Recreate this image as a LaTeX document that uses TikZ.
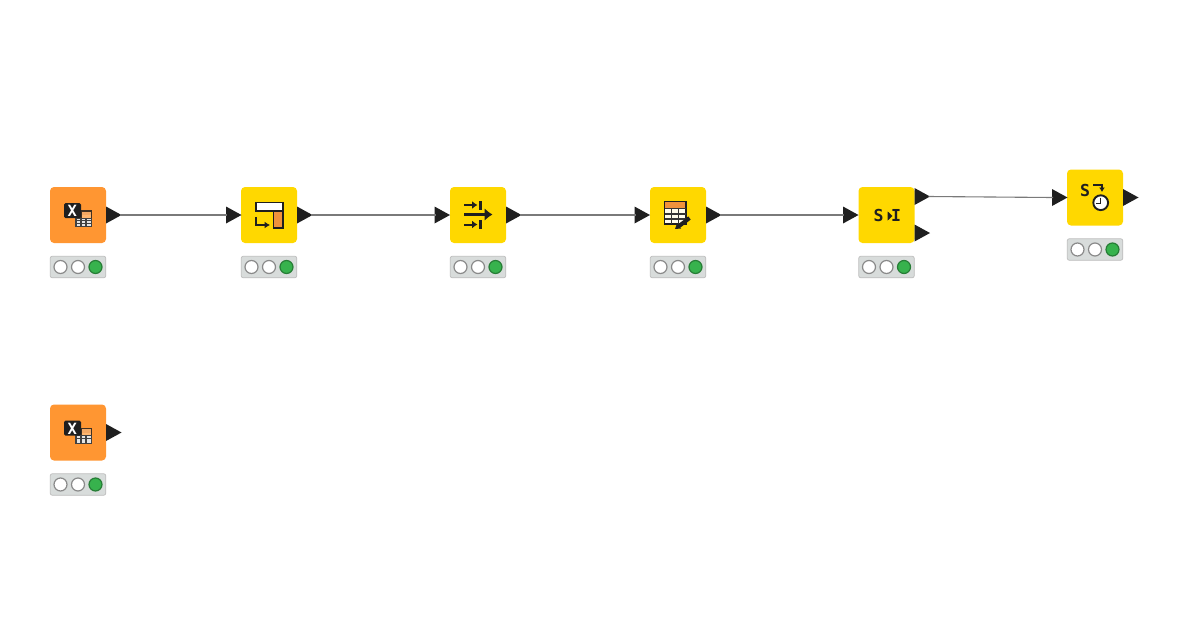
\documentclass[tikz,border=0pt]{standalone}
\usepackage{fontspec}
\setmainfont{DejaVu Sans Mono}
\usetikzlibrary{arrows.meta}
\definecolor{srccol}{HTML}{FF9632}
\definecolor{mancol}{HTML}{FFD800}
\definecolor{inkcol}{HTML}{1F1F1F}
\definecolor{wirecol}{HTML}{7A7A7A}
\definecolor{barcol}{HTML}{D8DCDB}
\definecolor{barline}{HTML}{BDBDBD}
\definecolor{ringcol}{HTML}{8A8A8A}
\definecolor{okcol}{HTML}{37B24D}
\definecolor{iconorange}{HTML}{F0923C}
\tikzset{
  x=1pt,y=-1pt,
  bodybox/.style={rectangle,rounded corners=4pt,minimum width=56pt,minimum height=56pt,inner sep=0pt,draw=none},
  statusbar/.style={rectangle,rounded corners=2pt,minimum width=55.5pt,minimum height=21.5pt,inner sep=0pt,fill=barcol,draw=barline,line width=.7pt},
  lamp/.style={circle,minimum size=13pt,inner sep=0pt,fill=white,draw=ringcol,line width=1.2pt},
  lampon/.style={lamp,fill=okcol,draw=okcol!70!black},
  wire/.style={draw=wirecol,line width=1.1pt},
  porttip/.style={fill=inkcol,draw=none},
  iconline/.style={draw=inkcol,line width=1.8pt},
  icontext/.style={text=inkcol,font=\bfseries\fontsize{16.5}{16.5}\selectfont,inner sep=0pt},
}
% name, left x, top y, fill
\newcommand{\knimenode}[4]{%
  \node[bodybox,fill=#4] (#1) at (#2+28,#3+28) {};
  \node[statusbar] (#1bar) at (#2+28,#3+80) {};
  \node[lamp] (#1la) at (#2+10.5,#3+80) {};
  \node[lamp] (#1lb) at (#2+28,#3+80) {};
  \node[lampon] (#1lc) at (#2+45.5,#3+80) {};
}
% triangle whose base is at the x,y given
\newcommand{\porttri}[3]{%
  \fill[porttip] (#2,#3-8.5) -- (#2+15.5,#3) -- (#2,#3+8.5) -- cycle;
  \coordinate (#1) at (#2+14,#3);
  \coordinate (#1base) at (#2+1,#3);
}
\newcommand{\excelicon}[2]{%
  \begin{scope}[shift={(#1,#2)}]
    \fill[inkcol!85!srccol] (30,23) rectangle (42,39.5);
    \fill[iconorange!80!white] (31.5,24.5) rectangle (41,28);
    \fill[srccol!70!white] (31.5,28) rectangle (41,31);
    \fill[inkcol!85!white] (25,30.5) rectangle (42,39.5);
    \foreach \cx in {26.6,32,37.2} \foreach \cy in {31.7,34.3,36.9}
      \fill[white!90!black] (\cx,\cy) rectangle ++(3.4,1.7);
    \fill[inkcol,rounded corners=1.5pt] (14,16) rectangle (31,31);
    \node[text=white,font=\bfseries\fontsize{15.5}{15.5}\selectfont,inner sep=0pt] (xmark#1#2) at (22.3,24) {X};
  \end{scope}}
\begin{document}
\begin{tikzpicture}
\useasboundingbox (0,0) rectangle (1200,630);
\fill[white] (0,0) rectangle (1200,630);

\knimenode{a}{50}{187}{srccol}
\knimenode{b}{241}{187}{mancol}
\knimenode{c}{450}{187}{mancol}
\knimenode{d}{650}{187}{mancol}
\knimenode{e}{858.5}{187}{mancol}
\knimenode{f}{1067}{169.5}{mancol}
\knimenode{g}{50}{404.5}{srccol}

\porttri{aout}{106}{215}
\porttri{bin}{226}{215}
\porttri{bout}{297}{215}
\porttri{cin}{434.5}{215}
\porttri{cout}{506}{215}
\porttri{din}{634.5}{215}
\porttri{dout}{706}{215}
\porttri{ein}{843}{215}
\porttri{eout}{914.5}{196.5}
\porttri{eoutb}{914.5}{233}
\porttri{fin}{1052}{197.5}
\porttri{fout}{1123}{197.5}
\porttri{gout}{106}{432.5}

\draw[wire] (aout) -- (binbase);
\draw[wire] (bout) -- (cinbase);
\draw[wire] (cout) -- (dinbase);
\draw[wire] (dout) -- (einbase);
\draw[wire] (eout) -- (finbase);

\excelicon{50}{187}
\excelicon{50}{404.5}

% column rename icon
\begin{scope}[shift={(241,187)}]
  \draw[iconline,fill=white] (15,15.5) rectangle (42,24);
  \draw[iconline,fill=iconorange] (32.5,24) rectangle (42,41);
  \draw[iconline,-{Latex[length=5.5pt,width=7pt]}] (15,30) -- (15,38) -- (29,38);
\end{scope}

% concatenate-style icon
\begin{scope}[shift={(450,187)}]
  \draw[draw=inkcol,line width=3pt,-{Latex[length=8pt,width=13pt]}] (14,27.5) -- (42.5,27.5);
  \draw[iconline,line width=2pt,-{Latex[length=5.5pt,width=8pt]}] (14,18) -- (27.5,18);
  \draw[iconline,line width=2.2pt] (30.5,14) -- (30.5,23);
  \draw[iconline,line width=2pt,-{Latex[length=5.5pt,width=8pt]}] (14,37.5) -- (27.5,37.5);
  \draw[iconline,line width=2.2pt] (30.5,33) -- (30.5,42);
\end{scope}

% table editor icon
\begin{scope}[shift={(650,187)}]
  \fill[white!92!mancol] (14.5,14.5) rectangle (36,37);
  \fill[iconorange] (14.5,15) rectangle (36,21);
  \draw[inkcol,line width=1.7pt] (14.5,14.5) rectangle (36,37);
  \draw[inkcol!90!white,line width=1.3pt] (14.5,21.5) -- (36,21.5) (14.5,27) -- (36,27) (14.5,32) -- (36,32)
    (21.5,21.5) -- (21.5,37) (28.5,21.5) -- (28.5,37);
  \draw[inkcol,line width=4pt] (28.5,39.5) -- (39.5,31);
  \fill[inkcol] (25,42) -- (27,36.5) -- (31,41.5) -- cycle;
\end{scope}

% string to integer style icon
\begin{scope}[shift={(858.5,187)}]
  \node[icontext] (esym) at (20.2,28.5) {S};
  \fill[inkcol] (29.2,24.5) -- (34,29) -- (29.2,33.5) -- cycle;
  \node[icontext] (isym) at (37.5,28.5) {I};
\end{scope}

% string to date icon
\begin{scope}[shift={(1067,169.5)}]
  \node[icontext] (fsym) at (18,20.5) {S};
  \draw[iconline,-{Latex[length=4.5pt,width=6pt]}] (26,15.5) -- (35,15.5) -- (35,22.5);
  \draw[draw=inkcol,line width=1.9pt,fill=white] (33.7,33.2) circle (7.4);
  \draw[inkcol,line width=1.2pt] (33.7,28) -- (33.7,34) -- (29.2,34);
\end{scope}
\end{tikzpicture}
\end{document}
